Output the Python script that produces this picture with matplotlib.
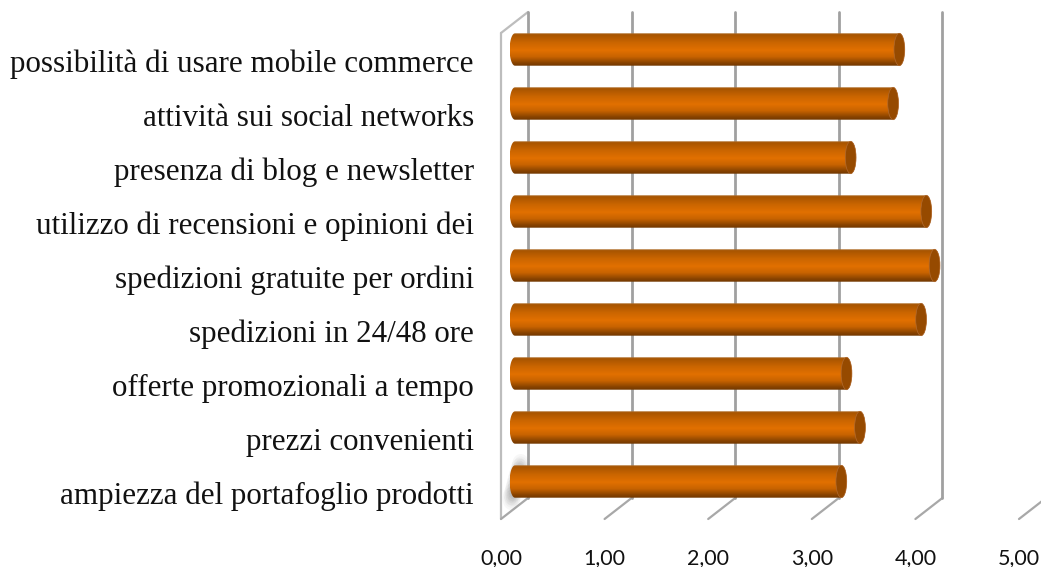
import numpy as np
import matplotlib
matplotlib.use("Agg")
import matplotlib.pyplot as plt
from matplotlib.path import Path
from matplotlib.patches import PathPatch, Ellipse
from matplotlib.colors import LinearSegmentedColormap

# =========================
# DATA (bottom to top)
# =========================

labels = [
    "ampiezza del portafoglio prodotti",
    "prezzi convenienti",
    "offerte promozionali a tempo",
    "spedizioni in 24/48 ore",
    "spedizioni gratuite per ordini",
    "utilizzo di recensioni e opinioni dei",
    "presenza di blog e newsletter",
    "attività sui social networks",
    "possibilità di usare mobile commerce",
]
values = [3.15, 3.33, 3.20, 3.92, 4.05, 3.97, 3.24, 3.65, 3.71]
ticks = [0, 1, 2, 3, 4, 5]
tick_labels = ["0,00", "1,00", "2,00", "3,00", "4,00", "5,00"]

# =========================
# LAYOUT
# =========================

W, H = 1041, 567
UNIT_X = 103.6   # px per value unit
UNIT_Y = 54.0    # px per category
X0 = 501.0       # px of value 0, front plane
Y0 = 481.5       # px of first category

DEPTH_X = 27 / UNIT_X
DEPTH_Y = 21 / UNIT_Y
FLOOR = (481.5 - 519) / UNIT_Y
TOP = FLOOR + (519 - 33) / UNIT_Y
BAR_SHIFT = 14 / UNIT_X
BAR_H = 0.30     # half height
CAP_W = 0.052    # half width of end cap

GRID = "#a0a0a0"
FLOOR_C = "#a8a8a8"
WALL = "#bdbdbd"

fig = plt.figure(figsize=(W / 100, H / 100), dpi=100)
ax = fig.add_axes([0, 0, 1, 1])

bar_cmap = LinearSegmentedColormap.from_list("bar", [
    (0.00, "#b0702f"),
    (0.05, "#a85500"),
    (0.30, "#cc6600"),
    (0.52, "#e27000"),
    (0.72, "#c86300"),
    (0.90, "#8a4400"),
    (1.00, "#703600"),
])
grad = np.linspace(0, 1, 256).reshape(-1, 1)

# --- walls and grid ---
ax.plot([0, 0], [FLOOR, TOP], color=WALL, lw=1.6, solid_capstyle="round")
ax.plot([0, DEPTH_X], [TOP, TOP + DEPTH_Y], color=WALL, lw=1.6, solid_capstyle="round")
for t in ticks:
    ax.plot([t, t + DEPTH_X], [FLOOR, FLOOR + DEPTH_Y], color=FLOOR_C, lw=1.6, solid_capstyle="round")
    if t < 5:
        ax.plot([t + DEPTH_X, t + DEPTH_X], [FLOOR + DEPTH_Y, TOP + DEPTH_Y], color=GRID, lw=2.0, solid_capstyle="round")

# --- soft shadow at base of the first bar ---
for s in np.linspace(0, 1, 9):
    for k in range(4):
        ax.add_patch(Ellipse(
            (0.10 + 0.09 * s, -0.32 + 0.62 * s), 0.17 - k * 0.035, 0.42 - k * 0.09,
            facecolor="#7a7a7a", edgecolor="none", alpha=0.055, zorder=2,
        ))

# --- bars ---
th = np.linspace(np.pi / 2, 3 * np.pi / 2, 40)
for i, (lab, v) in enumerate(zip(labels, values)):
    x0 = BAR_SHIFT
    x1 = BAR_SHIFT + v

    left = np.column_stack([x0 + CAP_W * np.cos(th), i + BAR_H * np.sin(th)])
    right = np.column_stack([x1 + CAP_W * np.cos(th + np.pi), i + BAR_H * np.sin(th + np.pi)])
    body = np.vstack([left, right, left[:1]])

    im = ax.imshow(grad, cmap=bar_cmap, vmin=0, vmax=1, aspect="auto", interpolation="bilinear",
                   extent=[x0 - CAP_W, x1 + CAP_W, i - BAR_H, i + BAR_H], zorder=3)
    clip = PathPatch(Path(body), transform=ax.transData, facecolor="none", edgecolor="none")
    ax.add_patch(clip)
    im.set_clip_path(clip)

    ax.add_patch(Ellipse((x1, i), 2 * CAP_W, 2 * BAR_H, facecolor="#964a00", edgecolor="#b06a30", lw=0.5, zorder=4))

    ax.text(-27 / UNIT_X, i - 22.5 / UNIT_Y, lab, ha="right", va="baseline", fontsize=22.3,
            family="Liberation Serif", color="#111111", zorder=5)

# --- value ticks ---
for t, lab in zip(ticks, tick_labels):
    ax.text(t, (481.5 - 558) / UNIT_Y, lab, ha="center", va="center", fontsize=15.5,
            family="Lato", color="#111111")

ax.set_xlim(-X0 / UNIT_X, (W - X0) / UNIT_X)
ax.set_ylim((Y0 - H) / UNIT_Y, Y0 / UNIT_Y)
ax.axis("off")

fig.savefig("out.png", dpi=100, facecolor="white")
plt.close(fig)
